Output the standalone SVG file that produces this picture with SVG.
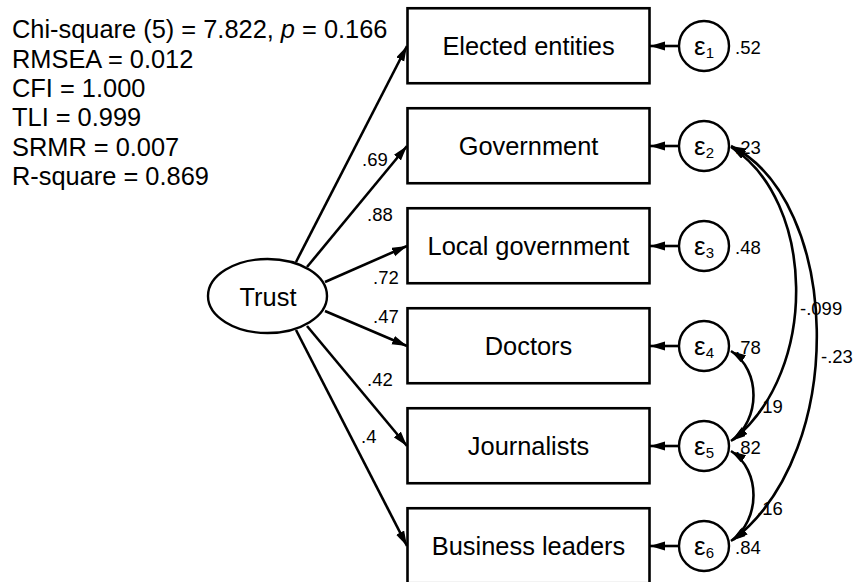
<svg xmlns="http://www.w3.org/2000/svg" width="854" height="582" viewBox="0 0 854 582">
<style>
text{font-family:"Liberation Sans",Arial,sans-serif;fill:#000}
.big{font-size:25.4px}
.lbl{font-size:18.5px}
.eps{font-size:26px}
.box{fill:#fff;stroke:#000;stroke-width:2.6}
.circ{fill:#fff;stroke:#000;stroke-width:2.4}
.ln{fill:none;stroke:#000;stroke-width:2.6}
</style>
<defs>
<marker id="ah" markerUnits="userSpaceOnUse" markerWidth="16" markerHeight="10" refX="15" refY="4.5" orient="auto-start-reverse">
<path d="M0,0 L15,4.5 L0,9 z" fill="#000"/>
</marker>
</defs>
<rect width="854" height="582" fill="#fff"/>

<g id="stats" class="big">
<text x="12" y="38">Chi-square (5) = 7.822, <tspan font-style="italic">p</tspan> = 0.166</text>
<text x="12" y="67.5">RMSEA = 0.012</text>
<text x="12" y="97">CFI = 1.000</text>
<text x="12" y="126">TLI = 0.999</text>
<text x="12" y="155.5">SRMR = 0.007</text>
<text x="12" y="184.5">R-square = 0.869</text>
</g>

<g id="connectors">
<line class="ln" x1="296" y1="262" x2="407" y2="46" marker-end="url(#ah)"/>
<line class="ln" x1="307" y1="267" x2="407" y2="146" marker-end="url(#ah)"/>
<line class="ln" x1="325" y1="282" x2="407" y2="246" marker-end="url(#ah)"/>
<line class="ln" x1="325" y1="311" x2="407" y2="346" marker-end="url(#ah)"/>
<line class="ln" x1="307" y1="326" x2="407" y2="446" marker-end="url(#ah)"/>
<line class="ln" x1="296" y1="330" x2="407" y2="546" marker-end="url(#ah)"/>
<line class="ln" x1="679" y1="46" x2="650" y2="46" marker-end="url(#ah)"/>
<line class="ln" x1="679" y1="146" x2="650" y2="146" marker-end="url(#ah)"/>
<line class="ln" x1="679" y1="246" x2="650" y2="246" marker-end="url(#ah)"/>
<line class="ln" x1="679" y1="346" x2="650" y2="346" marker-end="url(#ah)"/>
<line class="ln" x1="679" y1="446" x2="650" y2="446" marker-end="url(#ah)"/>
<line class="ln" x1="679" y1="546" x2="650" y2="546" marker-end="url(#ah)"/>
<path class="ln" d="M731,147 C815,200 820,370 733,440" marker-start="url(#ah)" marker-end="url(#ah)"/>
<path class="ln" d="M731,146 C840,200 850,450 733,540" marker-start="url(#ah)" marker-end="url(#ah)"/>
<path class="ln" d="M731,351 C761,370 761,420 731,441" marker-start="url(#ah)" marker-end="url(#ah)"/>
<path class="ln" d="M731,451 C761,470 761,520 731,541" marker-start="url(#ah)" marker-end="url(#ah)"/>
<g class="lbl">
<text x="362" y="166">.69</text>
<text x="367" y="221">.88</text>
<text x="373" y="284">.72</text>
<text x="373" y="322.5">.47</text>
<text x="367" y="386">.42</text>
<text x="361" y="442.5">.4</text>
<text x="800" y="315">-.099</text>
<text x="821" y="363">-.23</text>
<text x="757" y="413">.19</text>
<text x="757" y="515">.16</text>
</g>
</g>

<g id="trust">
<ellipse cx="267.5" cy="296" rx="59.5" ry="37" class="circ"/>
<text class="big" x="268" y="306" text-anchor="middle">Trust</text>
</g>

<g id="box1"><rect class="box" x="407.5" y="8.25" width="242" height="75"/><text class="big" x="528.5" y="55" text-anchor="middle">Elected entities</text></g>
<g id="box2"><rect class="box" x="407.5" y="108.25" width="242" height="75"/><text class="big" x="528.5" y="155" text-anchor="middle">Government</text></g>
<g id="box3"><rect class="box" x="407.5" y="208.25" width="242" height="75"/><text class="big" x="528.5" y="255" text-anchor="middle">Local government</text></g>
<g id="box4"><rect class="box" x="407.5" y="308.25" width="242" height="75"/><text class="big" x="528.5" y="355" text-anchor="middle">Doctors</text></g>
<g id="box5"><rect class="box" x="407.5" y="408.25" width="242" height="75"/><text class="big" x="528.5" y="455" text-anchor="middle">Journalists</text></g>
<g id="box6"><rect class="box" x="407.5" y="508.25" width="242" height="75"/><text class="big" x="528.5" y="555" text-anchor="middle">Business leaders</text></g>

<g id="e1"><circle class="circ" cx="704" cy="46" r="25"/><text class="eps" x="704" y="55" text-anchor="middle">ε<tspan font-size="15" dy="2.5">1</tspan></text><text class="lbl" x="735" y="54">.52</text></g>
<g id="e2"><circle class="circ" cx="704" cy="146" r="25"/><text class="eps" x="704" y="155" text-anchor="middle">ε<tspan font-size="15" dy="2.5">2</tspan></text><text class="lbl" x="735" y="154">.23</text></g>
<g id="e3"><circle class="circ" cx="704" cy="246" r="25"/><text class="eps" x="704" y="255" text-anchor="middle">ε<tspan font-size="15" dy="2.5">3</tspan></text><text class="lbl" x="735" y="254">.48</text></g>
<g id="e4"><circle class="circ" cx="704" cy="346" r="25"/><text class="eps" x="704" y="355" text-anchor="middle">ε<tspan font-size="15" dy="2.5">4</tspan></text><text class="lbl" x="735" y="354">.78</text></g>
<g id="e5"><circle class="circ" cx="704" cy="446" r="25"/><text class="eps" x="704" y="455" text-anchor="middle">ε<tspan font-size="15" dy="2.5">5</tspan></text><text class="lbl" x="735" y="454">.82</text></g>
<g id="e6"><circle class="circ" cx="704" cy="546" r="25"/><text class="eps" x="704" y="555" text-anchor="middle">ε<tspan font-size="15" dy="2.5">6</tspan></text><text class="lbl" x="735" y="553.5">.84</text></g>
</svg>
